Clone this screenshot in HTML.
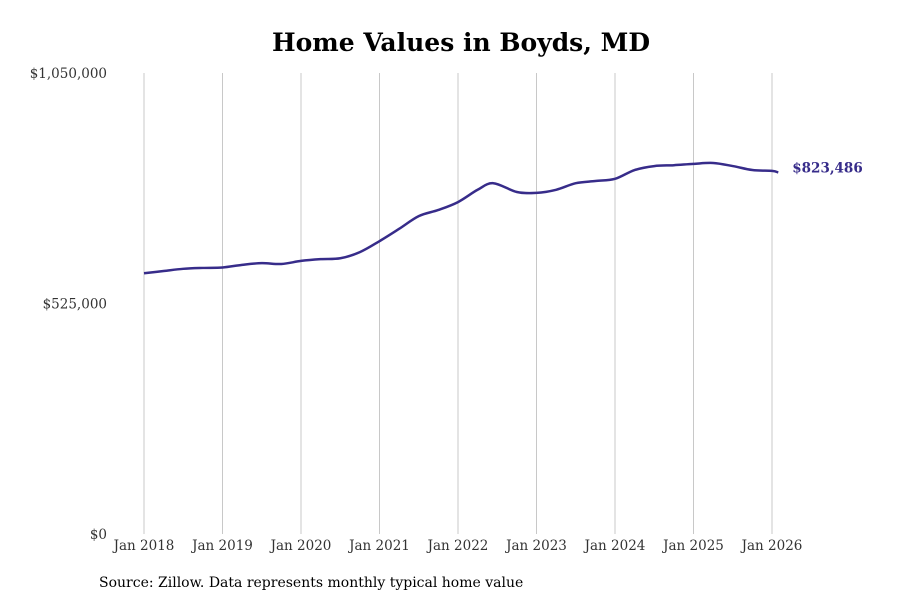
<!DOCTYPE html>
<html><head><meta charset="utf-8"><style>
body{margin:0;background:#fff;width:900px;height:600px;overflow:hidden;font-family:"DejaVu Serif",serif}
</style></head><body>
<svg width="900" height="600" font-family="DejaVu Serif, serif">
<text x="461" y="51" text-anchor="middle" font-size="25" font-weight="bold" fill="#000">Home Values in Boyds, MD</text>
<g id="grid"></g>
<g id="yaxis"></g>
<g id="xaxis"></g>
<path id="line" fill="none" stroke="#372c8a" stroke-width="2.5"/>
<text id="endlabel" font-size="13.5" font-weight="bold" fill="#372c8a"></text>
<text x="99" y="587" font-size="14" fill="#000">Source: Zillow. Data represents monthly typical home value</text>
</svg>
<script>
const years=[2018,2019,2020,2021,2022,2023,2024,2025,2026];
const yTicks=[0,525000,1050000];
const yTickLabels=["$0","$525,000","$1,050,000"];
const dates=[2018,2018.25,2018.5,2018.75,2019,2019.25,2019.5,2019.75,2020,2020.25,2020.5,2020.75,2021,2021.25,2021.5,2021.75,2022,2022.25,2022.45,2022.75,2023,2023.25,2023.5,2023.75,2024,2024.25,2024.5,2024.75,2025,2025.25,2025.5,2025.75,2026,2026.08];
const values=[594000,599000,604000,606000,607000,613000,617000,615000,622000,626000,628000,642000,667000,695000,724000,738000,756000,784000,799000,779000,777000,784000,799000,804000,809000,829000,838000,840000,843000,845000,838000,829000,827000,823486];
const NS="http://www.w3.org/2000/svg";
const xS=d=>144+(d-2018)*78.5;
const yS=v=>534-v/1050000*461;
function mk(t,a,p){const e=document.createElementNS(NS,t);for(const k in a)e.setAttribute(k,a[k]);p.appendChild(e);return e;}
const grid=document.getElementById('grid'),xa=document.getElementById('xaxis'),ya=document.getElementById('yaxis');
years.forEach(y=>{
 const l=mk('line',{x1:xS(y),x2:xS(y),y1:73,y2:534,stroke:'#c8c8c8','stroke-width':1},grid);
 
 
 const t=mk('text',{x:xS(y),y:550,'text-anchor':'middle','font-size':13.5,fill:'#333'},xa);
 t.textContent='Jan '+y;
 
 
});
yTicks.forEach((v,i)=>{
 const t=mk('text',{x:107,y:yS(v)+5,'text-anchor':'end','font-size':13.5,fill:'#333'},ya);
 t.textContent=yTickLabels[i];
 
 
});
const pts=dates.map((d,i)=>[xS(d),yS(values[i])]);
let d='M'+pts[0][0]+','+pts[0][1];
for(let i=0;i<pts.length-1;i++){
 const p0=pts[Math.max(0,i-1)],p1=pts[i],p2=pts[i+1],p3=pts[Math.min(pts.length-1,i+2)];
 const c1=[p1[0]+(p2[0]-p0[0])/6,p1[1]+(p2[1]-p0[1])/6],c2=[p2[0]-(p3[0]-p1[0])/6,p2[1]-(p3[1]-p1[1])/6];
 d+=` C${c1[0]},${c1[1]} ${c2[0]},${c2[1]} ${p2[0]},${p2[1]}`;
}
document.getElementById('line').setAttribute('d',d);
const last=pts[pts.length-1],el=document.getElementById('endlabel');
el.setAttribute('x',last[0]+14);el.setAttribute('y',last[1]);
el.textContent='$'+values[values.length-1].toLocaleString('en-US');
</script>
</body></html>
